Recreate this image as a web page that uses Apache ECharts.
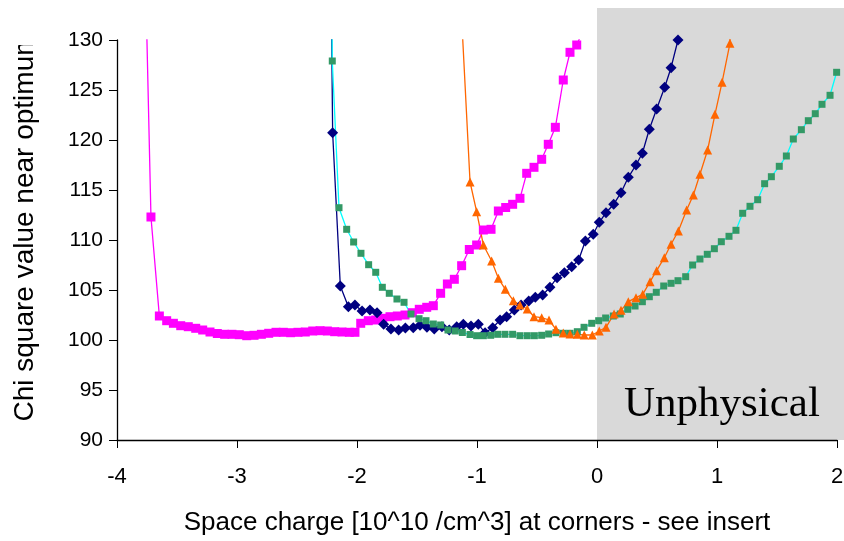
<!DOCTYPE html>
<html>
<head>
<meta charset="utf-8">
<script src="https://cdn.jsdelivr.net/npm/echarts@6/dist/echarts.min.js"></script>
<style>html,body{margin:0;padding:0;background:#fff}#c{width:844px;height:541px}</style>
</head>
<body>
<div id="c"></div>
<script>
// ---- data (x = space charge, y = chi square) ----
const xTicks = [-4, -3, -2, -1, 0, 1, 2];
const yTicks = [90, 95, 100, 105, 110, 115, 120, 125, 130];
const xTitle = 'Space charge [10^10 /cm^3] at corners - see insert';
const yTitle = 'Chi square value near optimum';
const shadeLabel = 'Unphysical';

const magentaPts = [
  [-3.76, 135], [-3.717, 112.3], [-3.647, 102.4], [-3.586, 101.93], [-3.530, 101.67], [-3.469, 101.43],
  [-3.406, 101.33], [-3.344, 101.17], [-3.286, 101.0], [-3.225, 100.8], [-3.164, 100.65], [-3.103, 100.57],
  [-3.042, 100.57], [-2.981, 100.53], [-2.919, 100.43], [-2.858, 100.47], [-2.797, 100.57], [-2.736, 100.67],
  [-2.675, 100.77], [-2.614, 100.77], [-2.553, 100.73], [-2.492, 100.77], [-2.431, 100.8], [-2.369, 100.9],
  [-2.308, 100.93], [-2.247, 100.9], [-2.186, 100.83], [-2.125, 100.8], [-2.064, 100.77], [-2.017, 100.77],
  [-1.969, 101.67], [-1.906, 101.93], [-1.844, 102.0], [-1.786, 102.17], [-1.725, 102.33], [-1.664, 102.4],
  [-1.600, 102.5], [-1.539, 102.73], [-1.481, 103.07], [-1.419, 103.27], [-1.364, 103.43], [-1.303, 104.67],
  [-1.247, 105.6], [-1.189, 106.07], [-1.128, 107.43], [-1.064, 109.05], [-1.003, 109.5], [-0.947, 111.0],
  [-0.883, 111.07], [-0.822, 112.9], [-0.761, 113.25], [-0.703, 113.57], [-0.642, 114.17], [-0.586, 116.67],
  [-0.525, 117.27], [-0.461, 118.07], [-0.406, 119.57], [-0.347, 121.27], [-0.281, 126.0], [-0.225, 128.77],
  [-0.169, 129.5], [-0.08, 132]
];

const navyPts = [
  [-2.215, 135], [-2.203, 120.73], [-2.139, 105.4], [-2.072, 103.33], [-2.017, 103.5], [-1.958, 102.9],
  [-1.892, 103.0], [-1.833, 102.73], [-1.778, 101.57], [-1.717, 101.1], [-1.653, 101.0], [-1.597, 101.2],
  [-1.531, 101.23], [-1.475, 101.47], [-1.417, 101.27], [-1.356, 101.1], [-1.292, 101.33], [-1.231, 101.0],
  [-1.169, 101.33], [-1.114, 101.57], [-1.050, 101.4], [-0.989, 101.57], [-0.933, 100.73], [-0.869, 101.23],
  [-0.808, 102.0], [-0.753, 102.33], [-0.689, 103.0], [-0.633, 103.5], [-0.569, 103.9], [-0.514, 104.27],
  [-0.453, 104.5], [-0.392, 105.27], [-0.333, 106.23], [-0.272, 106.73], [-0.211, 107.33], [-0.153, 108.0],
  [-0.097, 109.9], [-0.031, 110.57], [0.019, 111.77], [0.075, 112.73], [0.139, 113.57], [0.200, 114.73],
  [0.261, 116.27], [0.325, 117.5], [0.378, 118.67], [0.436, 121.07], [0.497, 123.1], [0.564, 125.27],
  [0.617, 127.23], [0.675, 130.0], [0.72, 133]
];

const greenPts = [
  [-2.215, 140], [-2.206, 127.9], [-2.150, 113.23], [-2.086, 111.07], [-2.028, 109.8], [-1.967, 108.67],
  [-1.903, 107.53], [-1.844, 106.77], [-1.789, 105.27], [-1.731, 104.67], [-1.667, 104.1], [-1.608, 103.77],
  [-1.550, 102.6], [-1.483, 102.13], [-1.425, 101.93], [-1.364, 101.6], [-1.303, 101.5], [-1.242, 101.0],
  [-1.181, 100.9], [-1.122, 100.75], [-1.058, 100.55], [-1.003, 100.43], [-0.947, 100.43], [-0.886, 100.47],
  [-0.828, 100.57], [-0.767, 100.57], [-0.703, 100.57], [-0.642, 100.43], [-0.581, 100.43], [-0.522, 100.43],
  [-0.461, 100.47], [-0.403, 100.6], [-0.342, 100.73], [-0.281, 100.67], [-0.225, 100.67], [-0.164, 100.83],
  [-0.108, 101.27], [-0.044, 101.67], [0.014, 101.93], [0.072, 102.2], [0.136, 102.4], [0.194, 102.6],
  [0.256, 103.07], [0.317, 103.4], [0.378, 103.83], [0.436, 104.33], [0.494, 104.77], [0.556, 105.4],
  [0.617, 105.67], [0.675, 105.93], [0.739, 106.33], [0.797, 107.5], [0.858, 108.1], [0.919, 108.57],
  [0.978, 109.13], [1.036, 109.83], [1.100, 110.37], [1.158, 110.97], [1.214, 112.67], [1.275, 113.37],
  [1.339, 114.03], [1.397, 115.63], [1.453, 116.33], [1.519, 117.37], [1.578, 118.4], [1.636, 120.1],
  [1.703, 121.03], [1.761, 121.93], [1.819, 122.63], [1.875, 123.57], [1.942, 124.47], [1.997, 126.77]
];

const orangePts = [
  [-1.14, 135], [-1.058, 115.8], [-1.003, 112.83], [-0.947, 109.5], [-0.878, 107.9], [-0.822, 106.17],
  [-0.764, 105.07], [-0.697, 103.93], [-0.642, 103.5], [-0.581, 103.1], [-0.525, 102.33], [-0.461, 102.23],
  [-0.400, 102.0], [-0.342, 101.07], [-0.281, 100.7], [-0.225, 100.6], [-0.164, 100.57], [-0.106, 100.5],
  [-0.039, 100.5], [0.019, 100.9], [0.075, 101.27], [0.142, 102.6], [0.200, 102.97], [0.261, 103.83],
  [0.325, 104.23], [0.381, 104.57], [0.442, 105.83], [0.497, 106.93], [0.561, 108.23], [0.617, 109.57],
  [0.678, 110.9], [0.747, 113.0], [0.803, 114.5], [0.858, 116.57], [0.922, 119.0], [0.983, 122.57],
  [1.042, 125.77], [1.108, 129.67], [1.115, 135]
];

const FONT = "'Liberation Sans', Arial, sans-serif";

const chart = echarts.init(document.getElementById('c'), null, {renderer: 'canvas'});

function lineSeries(name, data, lineColor, markColor, symbol, size) {
  return {
    name, type: 'line', data, symbol, symbolSize: size, showSymbol: true,
    clip: true, animation: false, z: 3,
    lineStyle: {color: lineColor, width: 1.3},
    itemStyle: {color: markColor, borderWidth: 0}
  };
}

const option = {
  animation: false,
  backgroundColor: '#fff',
  grid: {left: 117, right: 7, top: 40, bottom: 101, containLabel: false, outerBoundsMode: 'none'},
  xAxis: {
    type: 'value', min: xTicks[0], max: xTicks[xTicks.length - 1], interval: 1,
    name: xTitle, nameLocation: 'middle', nameGap: 70,
    nameTextStyle: {fontFamily: FONT, fontSize: 26, color: '#000'},
    axisLine: {onZero: false, lineStyle: {color: '#000', width: 1.3}},
    axisTick: {show: true, length: 8, lineStyle: {color: '#000', width: 1}},
    axisLabel: {fontFamily: FONT, fontSize: 22, color: '#000', margin: 26},
    splitLine: {show: false}
  },
  yAxis: {
    type: 'value', min: yTicks[0], max: yTicks[yTicks.length - 1], interval: 5,
    name: yTitle, nameLocation: 'middle', nameGap: 78, nameRotate: 90,
    nameTextStyle: {fontFamily: FONT, fontSize: 28, color: '#000', padding: [0, 0, 0, 26]},
    axisLine: {show: true, onZero: false, lineStyle: {color: '#000', width: 1.3}},
    axisTick: {show: true, length: 8, lineStyle: {color: '#000', width: 1}},
    axisLabel: {fontFamily: FONT, fontSize: 21, color: '#000', margin: 14},
    splitLine: {show: false}
  },
  series: [
    lineSeries('magenta', magentaPts, '#FF00FF', '#FF00FF', 'rect', 9),
    lineSeries('navy', navyPts, '#000080', '#000080', 'diamond', 11),
    lineSeries('green', greenPts, '#00FFFF', '#339966', 'rect', 7),
    lineSeries('orange', orangePts, '#FF6600', '#FF6600', 'triangle', 9)
  ]
};
chart.setOption(option);

const x0 = chart.convertToPixel({xAxisIndex: 0}, 0);
const yB = chart.convertToPixel({yAxisIndex: 0}, yTicks[0]);
chart.setOption({
  graphic: [
    {type: 'rect', z: -1, silent: true,
     shape: {x: x0, y: 8, width: 844 - x0, height: yB - 8},
     style: {fill: '#D9D9D9'}},
    {type: 'text', z: 1, silent: true, x: x0 + 27, y: 405,
     style: {text: shadeLabel, fontFamily: "'Liberation Serif', 'Times New Roman', serif",
             fontSize: 43, fill: '#000', verticalAlign: 'middle'}},
    {type: 'rect', z: 100, silent: true, shape: {x: 0, y: 0, width: 60, height: 45},
     style: {fill: '#fff'}}
  ]
});
</script>
</body>
</html>
